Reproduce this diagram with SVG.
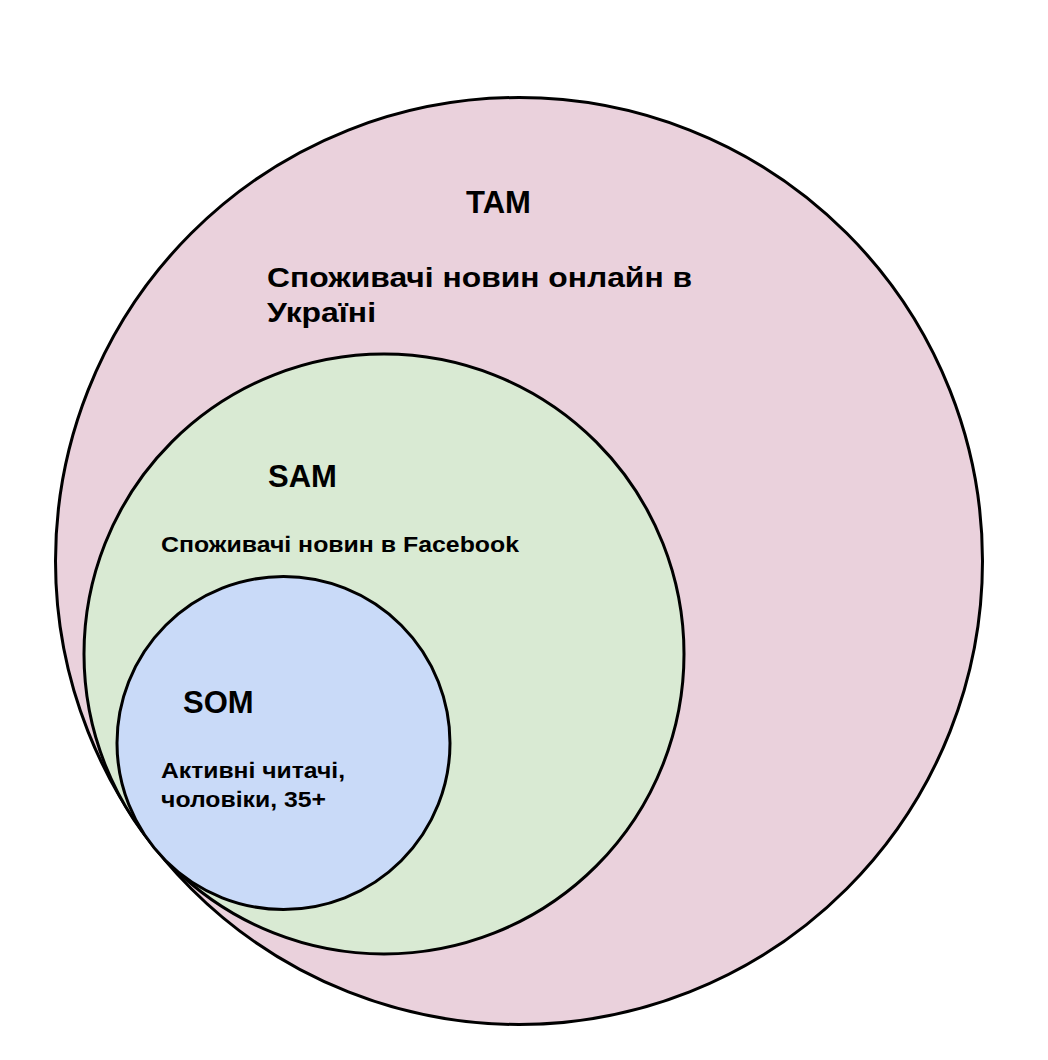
<svg xmlns="http://www.w3.org/2000/svg" width="1048" height="1060" viewBox="0 0 1048 1060">
<style>
.c{stroke:#000;stroke-width:3}
.t{font-family:"Liberation Sans",Arial,sans-serif;font-weight:bold;fill:#000}
.h{font-size:31px}
.b{font-size:28px}
.s{font-size:22px}
</style>
<rect width="1048" height="1060" fill="#fff"/>
<g id="tam">
<circle class="c" cx="519" cy="561" r="463.5" fill="#ead1dc"/>
<text class="t h" x="466" y="213">TAM</text>
<text class="t b" x="267" y="287" textLength="425" lengthAdjust="spacingAndGlyphs">Споживачі новин онлайн в</text>
<text class="t b" x="267" y="322" textLength="109" lengthAdjust="spacingAndGlyphs">Україні</text>
</g>
<g id="sam">
<circle class="c" cx="384" cy="654" r="300" fill="#d9ead3"/>
<text class="t h" x="268" y="487">SAM</text>
<text class="t s" x="161" y="552" textLength="358" lengthAdjust="spacingAndGlyphs">Споживачі новин в Facebook</text>
</g>
<g id="som">
<circle class="c" cx="283.5" cy="743" r="166.5" fill="#c9daf8"/>
<text class="t h" x="183" y="713">SOM</text>
<text class="t s" x="161" y="778" textLength="184" lengthAdjust="spacingAndGlyphs">Активні читачі,</text>
<text class="t s" x="161" y="807" textLength="165" lengthAdjust="spacingAndGlyphs">чоловіки, 35+</text>
</g>
<g id="connectors"/>
</svg>
